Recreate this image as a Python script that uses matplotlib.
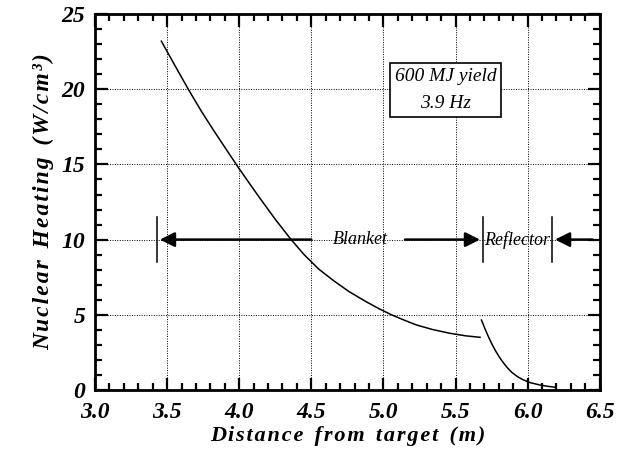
#!/usr/bin/env python3
"""Nuclear heating vs distance from target (blanket / reflector)."""

import matplotlib
matplotlib.use("Agg")
import matplotlib.pyplot as plt
from matplotlib.ticker import MultipleLocator

# blanket region curve
blanket_x = [3.46, 3.55, 3.65, 3.74, 3.82, 3.91, 3.99, 4.07, 4.14, 4.25, 4.36, 4.45,
             4.55, 4.65, 4.76, 4.88, 4.97, 5.06, 5.15, 5.23, 5.34, 5.46, 5.57, 5.67]
blanket_y = [23.2, 21.65, 19.95, 18.5, 17.3, 16.0, 14.85, 13.75, 12.8, 11.35, 10.0, 9.0,
             8.05, 7.3, 6.55, 5.87, 5.4, 4.98, 4.62, 4.32, 4.02, 3.77, 3.6, 3.5]

# reflector region curve
refl_x = [5.68, 5.705, 5.73, 5.755, 5.78, 5.805, 5.83, 5.86, 5.89, 5.93, 5.97, 6.02, 6.08, 6.14, 6.19]
refl_y = [4.65, 4.05, 3.5, 3.0, 2.56, 2.17, 1.83, 1.47, 1.17, 0.88, 0.67, 0.48, 0.34, 0.24, 0.18]

xticks = [3.0, 3.5, 4.0, 4.5, 5.0, 5.5, 6.0, 6.5]
yticks = [0, 5, 10, 15, 20, 25]

# region boundaries (m) and the level the arrows sit at
blanket_start = 3.43
blanket_end = 5.69
reflector_end = 6.17
arrow_level = 10

SERIF = "Liberation Serif"
FAMILY = [SERIF, "DejaVu Serif"]


def spaced(text):
    # the original is typeset with wide letter spacing
    return "  ".join("\u200a".join(word) for word in text.split(" "))


fig = plt.figure(figsize=(6.17, 4.55), dpi=100)
ax = fig.add_axes([0.154, 0.143, 0.818, 0.826])

ax.plot(blanket_x, blanket_y, color="black", lw=1.1)
ax.plot(refl_x, refl_y, color="black", lw=1.1)

ax.set_xlim(3.0, 6.5)
ax.set_ylim(0, 25)
ax.set_xticks(xticks)
ax.set_yticks(yticks)
ax.xaxis.set_minor_locator(MultipleLocator(0.1))
ax.yaxis.set_minor_locator(MultipleLocator(1))
ax.set_xticklabels([f"{v:.1f}" for v in xticks])
ax.set_yticklabels([str(v) for v in yticks])
ax.grid(True, which="major", color="black", linestyle=(0, (1, 1.5)), lw=0.7)
ax.set_axisbelow(True)

ax.tick_params(which="both", direction="in", top=True, right=True, width=1.6, colors="black")
ax.tick_params(which="major", length=9)
ax.tick_params(axis="x", which="major", pad=9)
ax.tick_params(axis="y", which="major", pad=7)
ax.tick_params(which="minor", length=5)
for spine in ax.spines.values():
    spine.set_linewidth(2)

for lab in ax.get_xticklabels() + ax.get_yticklabels():
    lab.set_fontfamily(SERIF)
    lab.set_fontweight("bold")
    lab.set_fontstyle("italic")
    lab.set_fontsize(17)

ax.set_xlabel(spaced("Distance from target (m)"), fontfamily=FAMILY, fontweight="bold",
              fontstyle="italic", fontsize=16, labelpad=2)
ax.set_ylabel(spaced("Nuclear Heating (W/cm³)"), fontfamily=FAMILY, fontweight="bold",
              fontstyle="italic", fontsize=17, labelpad=5)

# region markers
for xb in (blanket_start, blanket_end, reflector_end):
    ax.plot([xb, xb], [arrow_level - 1.5, arrow_level + 1.5], color="black", lw=1.1)

arrow = dict(arrowstyle="-|>", color="black", lw=1.8, mutation_scale=22, shrinkA=0, shrinkB=0)
ax.annotate("", xy=(blanket_start + 0.02, arrow_level), xytext=(4.5, arrow_level), arrowprops=arrow)
ax.annotate("", xy=(blanket_end - 0.02, arrow_level), xytext=(5.15, arrow_level), arrowprops=arrow)
ax.annotate("", xy=(reflector_end + 0.02, arrow_level), xytext=(6.45, arrow_level), arrowprops=arrow)

ax.text(4.84, arrow_level, "Blanket", fontfamily=SERIF, fontstyle="italic", fontsize=13,
        ha="center", va="center", color="black")
ax.text(5.93, arrow_level, "Reflector", fontfamily=SERIF, fontstyle="italic", fontsize=13,
        ha="center", va="center", color="black")

ax.text(5.43, 19.95, "600 MJ yield\n3.9 Hz", fontfamily=SERIF, fontstyle="italic", fontsize=14,
        ha="center", va="center", linespacing=1.75,
        bbox=dict(boxstyle="square,pad=0.25", facecolor="white", edgecolor="black", lw=1.2))

fig.savefig("out.png", dpi=100)
